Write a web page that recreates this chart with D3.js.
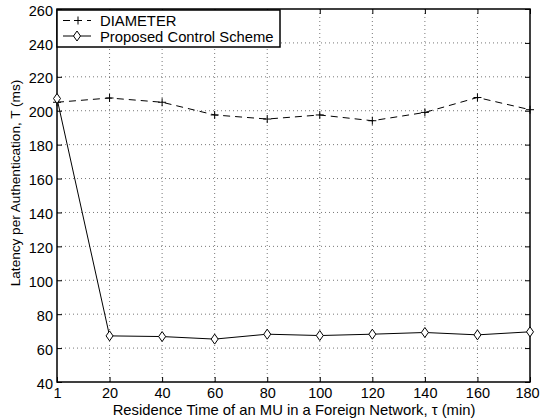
<!DOCTYPE html>
<html>
<head>
<meta charset="utf-8">
<script src="https://cdn.jsdelivr.net/npm/d3@7"></script>
<style>
  body { margin: 0; background: #fff; }
  svg text { font-family: "Liberation Sans", Arial, sans-serif; fill: #000; }
</style>
</head>
<body>
<div id="chart"></div>
<script>
// residence time (min); first tick is labelled "1"
const xValues = [0, 20, 40, 60, 80, 100, 120, 140, 160, 180];
const xTickLabels = ["1", "20", "40", "60", "80", "100", "120", "140", "160", "180"];
const yTicks = [40, 60, 80, 100, 120, 140, 160, 180, 200, 220, 240, 260];
const diameter = [205, 207.5, 205, 197.5, 195.1, 197.5, 194.1, 199, 207.8, 200.6];
const proposed = [207.2, 67.2, 66.8, 65.3, 68.2, 67.4, 68.2, 69.2, 67.8, 69.6];

const W = 541, H = 419;
const margin = { top: 9, right: 11, bottom: 37, left: 57 };
const width = W - margin.left - margin.right;
const height = H - margin.top - margin.bottom;

const svg = d3.select('#chart').append('svg')
  .attr('width', W).attr('height', H);
const g = svg.append('g').attr('transform', `translate(${margin.left},${margin.top})`);

const x = d3.scaleLinear().domain([0, 180]).range([0, width]);
const y = d3.scaleLinear().domain([40, 260]).range([height, 0]);

// grid
g.append('g').selectAll('line').data(xValues.slice(1, -1)).enter().append('line')
  .attr('x1', d => x(d)).attr('x2', d => x(d)).attr('y1', 0).attr('y2', height)
  .attr('stroke', '#555').attr('stroke-width', 0.8).attr('stroke-dasharray', '1,3');
g.append('g').selectAll('line').data(yTicks.slice(1, -1)).enter().append('line')
  .attr('y1', d => y(d)).attr('y2', d => y(d)).attr('x1', 0).attr('x2', width)
  .attr('stroke', '#555').attr('stroke-width', 0.8).attr('stroke-dasharray', '1,3');

// axes
const fmt = (d, i) => xTickLabels[i];
g.append('g').attr('transform', `translate(0,${height})`)
  .call(d3.axisBottom(x).tickValues(xValues).tickFormat(fmt).tickSizeInner(-5).tickSizeOuter(0).tickPadding(6))
  .call(a => a.select('.domain').remove())
  .call(a => a.selectAll('text').style('font-size', '14.5px'))
  .call(a => a.selectAll('.tick:last-of-type text').attr('dx', -3));
g.append('g')
  .call(d3.axisTop(x).tickValues(xValues).tickFormat('').tickSizeInner(-5).tickSizeOuter(0))
  .call(a => a.select('.domain').remove());
g.append('g')
  .call(d3.axisLeft(y).tickValues(yTicks).tickSizeInner(-5).tickSizeOuter(0).tickPadding(4))
  .call(a => a.select('.domain').remove())
  .call(a => a.selectAll('text').style('font-size', '14.5px').attr('dy', '0.42em'));
g.append('g').attr('transform', `translate(${width},0)`)
  .call(d3.axisRight(y).tickValues(yTicks).tickFormat('').tickSizeInner(-5).tickSizeOuter(0))
  .call(a => a.select('.domain').remove());
g.selectAll('.tick line').attr('stroke', '#000');

g.append('rect').attr('width', width).attr('height', height)
  .attr('fill', 'none').attr('stroke', '#000').attr('stroke-width', 1.5);

// lines
const line = d3.line().x((d, i) => x(xValues[i])).y(d => y(d));
g.append('path').datum(diameter).attr('d', line)
  .attr('fill', 'none').attr('stroke', '#000').attr('stroke-width', 1).attr('stroke-dasharray', '7,5');
g.append('path').datum(proposed).attr('d', line)
  .attr('fill', 'none').attr('stroke', '#000').attr('stroke-width', 1);

// markers
g.selectAll('.plus').data(diameter).enter().append('path')
  .attr('transform', (d, i) => `translate(${x(xValues[i])},${y(d)})`)
  .attr('d', 'M-4,0H4M0,-4V4').attr('stroke', '#000').attr('stroke-width', 1);
g.selectAll('.dia').data(proposed).enter().append('path')
  .attr('transform', (d, i) => `translate(${x(xValues[i])},${y(d)})`)
  .attr('d', 'M0,-5L3.5,0L0,5L-3.5,0Z').attr('fill', '#fff').attr('stroke', '#000').attr('stroke-width', 1);

// axis labels
svg.append('text')
  .attr('x', 294).attr('y', 415)
  .attr('text-anchor', 'middle').style('font-size', '14.8px')
  .text('Residence Time of an MU in a Foreign Network, τ (min)');
svg.append('text')
  .attr('transform', 'translate(19.5,183) rotate(-90)')
  .attr('text-anchor', 'middle').style('font-size', '13.6px')
  .text('Latency per Authentication, T (ms)');

// legend
const lg = svg.append('g').attr('transform', 'translate(57,10)');
lg.append('rect').attr('width', 223).attr('height', 37)
  .attr('fill', '#fff').attr('stroke', '#000').attr('stroke-width', 1.5);
lg.append('line').attr('x1', 6).attr('x2', 34).attr('y1', 10.5).attr('y2', 10.5)
  .attr('stroke', '#000').attr('stroke-dasharray', '7,5');
lg.append('path').attr('transform', 'translate(21,10.5)').attr('d', 'M-4,0H4M0,-4V4').attr('stroke', '#000');
lg.append('text').attr('x', 43).attr('y', 15.5).style('font-size', '14.8px').text('DIAMETER');
lg.append('line').attr('x1', 6).attr('x2', 34).attr('y1', 26).attr('y2', 26).attr('stroke', '#000');
lg.append('path').attr('transform', 'translate(20,26)').attr('d', 'M0,-5L3.5,0L0,5L-3.5,0Z')
  .attr('fill', '#fff').attr('stroke', '#000');
lg.append('text').attr('x', 43).attr('y', 31.5).style('font-size', '14.8px').text('Proposed Control Scheme');
</script>
</body>
</html>
